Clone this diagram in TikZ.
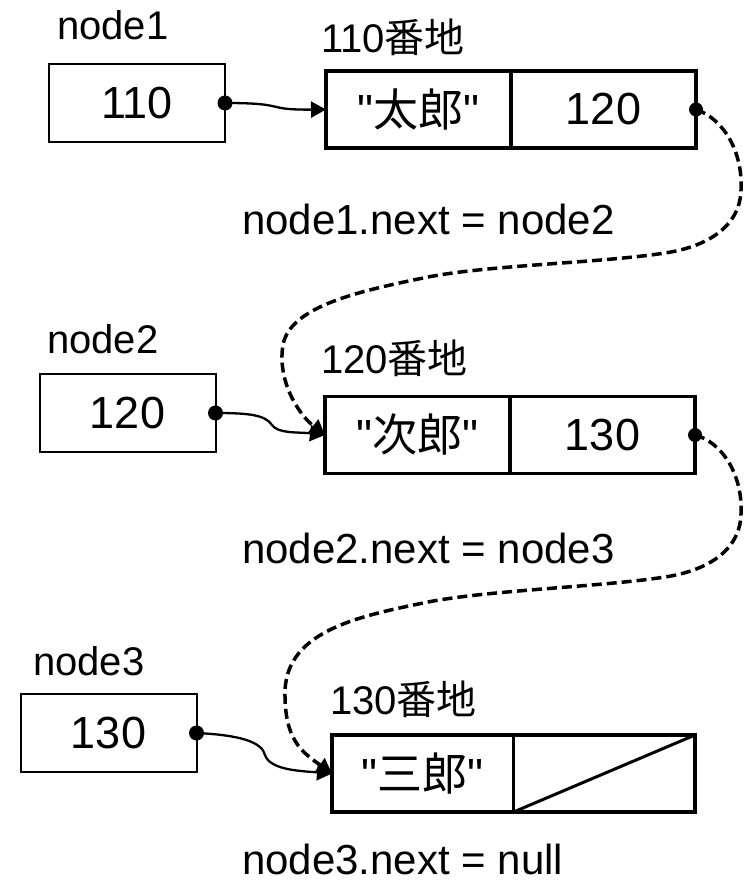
\documentclass[tikz,border=0pt]{standalone}
\usepackage{fontspec}
\setmainfont{Liberation Sans}[Ligatures=TeXOff]
\newfontfamily\cjk{Noto Sans CJK JP}
\usetikzlibrary{arrows.meta}
\begin{document}
\begin{tikzpicture}[x=1pt,y=-1pt,
  varbox/.style={draw,line width=2pt,minimum width=176pt,minimum height=78pt,inner sep=0pt,outer sep=0pt,font=\fontsize{45}{50}\selectfont},
  cell/.style={draw,line width=3.5pt,minimum width=185pt,minimum height=77pt,inner sep=0pt,outer sep=0pt,font=\fontsize{45}{50}\selectfont},
  lbl/.style={anchor=base west,inner sep=0pt,font=\fontsize{40}{46}\selectfont},
  nextlbl/.style={anchor=base west,inner sep=0pt,font=\fontsize{42}{48}\selectfont},
  ptr/.style={line width=2.3pt,-{Triangle[length=15pt,width=16pt]}},
  nxt/.style={line width=3.5pt,dash pattern=on 10pt off 5pt,-{Triangle[length=15pt,width=16pt]}},
  dotr/.style={fill=black}]
\useasboundingbox (0,0) rectangle (745,882);
% labels
\node[lbl] (l1) at (57,40) {node1};
\node[lbl] (a1) at (321,53) {110{\cjk 番地}};
\node[nextlbl] (n1) at (242,235) {node1.next = node2};
\node[lbl] (l2) at (47,353) {node2};
\node[lbl] (a2) at (321,373) {120{\cjk 番地}};
\node[nextlbl] (n2) at (242,563) {node2.next = node3};
\node[lbl] (l3) at (33,675) {node3};
\node[lbl] (a3) at (330,714) {130{\cjk 番地}};
\node[nextlbl,text depth=0pt] (n3) at (242,874) {node3.next = null};
% variable boxes
\node[varbox] (b1) at (137,103) {110};
\node[varbox] (b2) at (127.5,413) {120};
\node[varbox] (b3) at (108.5,733) {130};
% records
\node[cell] (r1a) at (418.5,109.5) {"{\cjk 太郎}"};
\node[cell] (r1b) at (603.5,109.5) {120};
\node[cell] (r2a) at (417.5,435) {"{\cjk 次郎}"};
\node[cell] (r2b) at (602.5,435) {130};
\node[cell,minimum width=181.5pt] (r3a) at (422.75,773.5) {"{\cjk 三郎}"};
\node[cell,minimum width=181.5pt] (r3b) at (604.25,773.5) {};
\draw[line width=3pt] (r3b.south west) -- (r3b.north east);
% pointer arrows
\draw[ptr] (b1.east) .. controls (290,103) and (262,110) .. (r1a.west);
\draw[ptr] (b2.east) .. controls (250,413) and (265,415) .. (272,425) .. controls (278,434) and (300,432) .. (r2a.west);
\draw[ptr] (b3.east) .. controls (240,735) and (262,742) .. (265,755) .. controls (270,770) and (300,771) .. (r3a.west);
% next links
\draw[nxt] (r1b.east) .. controls (722,118) and (743,150) .. (741,190)
  .. controls (740,228) and (705,247) .. (665,253)
  .. controls (600,263) and (490,265) .. (428,277)
  .. controls (365,290) and (290,305) .. (283,345)
  .. controls (277,380) and (298,414) .. (r2a.west);
\draw[nxt] (r2b.east) .. controls (722,442) and (743,475) .. (741,514)
  .. controls (740,552) and (705,571) .. (665,577)
  .. controls (600,587) and (490,590) .. (428,602)
  .. controls (360,616) and (288,630) .. (285,690)
  .. controls (284,740) and (302,752) .. (r3a.west);
% dots
\fill[dotr] (b1.east) circle (7.5pt);
\fill[dotr] (b2.east) circle (7.5pt);
\fill[dotr] (b3.east) circle (7.5pt);
\fill[dotr] (r1b.east) circle (7pt);
\fill[dotr] (r2b.east) circle (7pt);
\end{tikzpicture}
\end{document}
